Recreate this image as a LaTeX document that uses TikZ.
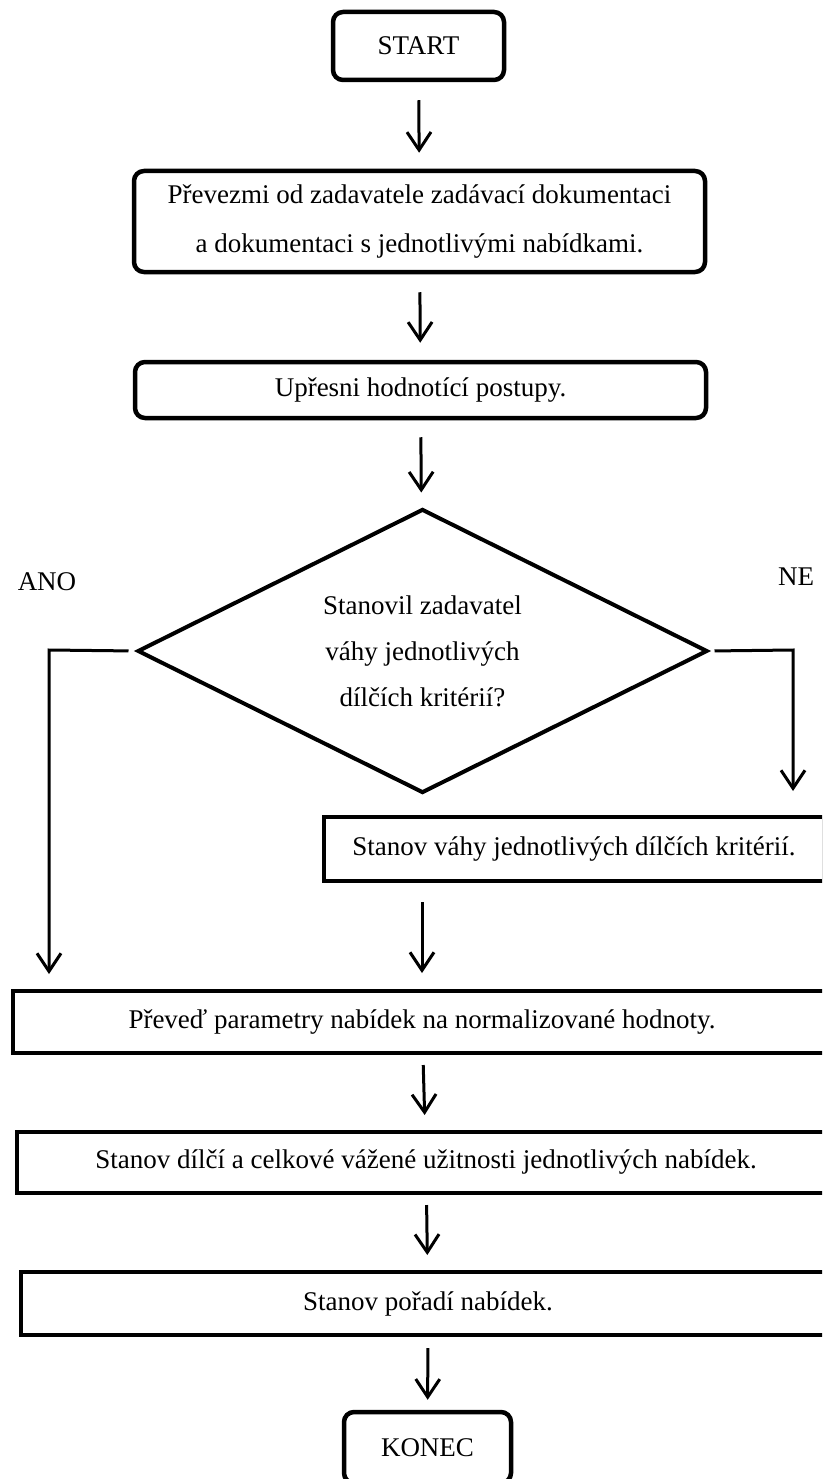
\documentclass[tikz,border=0pt]{standalone}
\usepackage{fontspec}
\setmainfont{Liberation Serif}
\usetikzlibrary{shapes.geometric,arrows.meta}

\begin{document}
\begin{tikzpicture}[
  x=1pt, y=-1pt,
  roundbox/.style={draw, line width=4.5pt, rounded corners=10pt, inner sep=0pt, align=center, font=\fontsize{27}{49}\selectfont},
  plainbox/.style={draw, line width=4pt, inner sep=0pt, align=center, font=\fontsize{27}{33}\selectfont},
  decision/.style={draw, diamond, shape aspect=2, line width=4pt, inner sep=0pt, align=center, font=\fontsize{27}{46}\selectfont},
  answer/.style={inner sep=0pt, font=\fontsize{27}{33}\selectfont},
  arrow/.style={-{Straight Barb[length=18pt,width=24pt]}, line width=3pt}
]
  \useasboundingbox (0,0) rectangle (822,1479);
  \clip (0,0) rectangle (822,1479);

  % Start and preparation
  \node[roundbox, minimum width=171, minimum height=68] (start) at (418.5,46) {START};
  \node[roundbox, minimum width=571, minimum height=101] (docs) at (419.5,221.5) {Převezmi od zadavatele zadávací dokumentaci\\a dokumentaci s jednotlivými nabídkami.};
  \node[roundbox, minimum width=571, minimum height=56] (refine) at (420.5,390) {Upřesni hodnotící postupy.};

  % Decision
  \node[decision, minimum width=570, minimum height=284] (decide) at (422.5,651) {Stanovil zadavatel\\váhy jednotlivých\\dílčích kritérií?};
  \node[answer] (yes) at (47,582) {ANO};
  \node[answer] (no) at (796,577) {NE};
  \node[plainbox, minimum width=500, minimum height=64] (weights) at (574,849) {Stanov váhy jednotlivých dílčích kritérií.};

  % Evaluation
  \node[plainbox, minimum width=818, minimum height=62] (convert) at (422,1022) {Převeď parametry nabídek na normalizované hodnoty.};
  \node[plainbox, minimum width=818, minimum height=61] (utility) at (426,1162.5) {Stanov dílčí a celkové vážené užitnosti jednotlivých nabídek.};
  \node[plainbox, minimum width=814, minimum height=63] (ranking) at (428,1303.5) {Stanov pořadí nabídek.};
  \node[roundbox, minimum width=167, minimum height=71] (konec) at (427.5,1447.5) {KONEC};

  % Arrows
  \coordinate (yesbend) at (49,650);
  \coordinate (nobend) at (793,650);
  \draw[arrow, shorten <=18pt, shorten >=16pt] (start) -- (docs);
  \draw[arrow, shorten <=18pt, shorten >=17pt] (docs) -- (refine);
  \draw[arrow, shorten <=17pt, shorten >=15pt] (refine) -- (decide);
  \draw[arrow, shorten <=7pt, shorten >=15pt] (decide.west) -- (yesbend) -- (yesbend |- convert.north);
  \draw[arrow, shorten <=5pt, shorten >=24pt] (decide.east) -- (nobend) -- (nobend |- weights.north);
  \draw[arrow, shorten <=19pt, shorten >=16pt] (weights.south -| convert) -- (convert.north);
  \draw[arrow, shorten <=10pt, shorten >=15pt] (convert) -- (utility);
  \draw[arrow, shorten <=10pt, shorten >=15pt] (utility) -- (ranking);
  \draw[arrow, shorten <=11pt, shorten >=10pt] (ranking) -- (konec);
\end{tikzpicture}
\end{document}
